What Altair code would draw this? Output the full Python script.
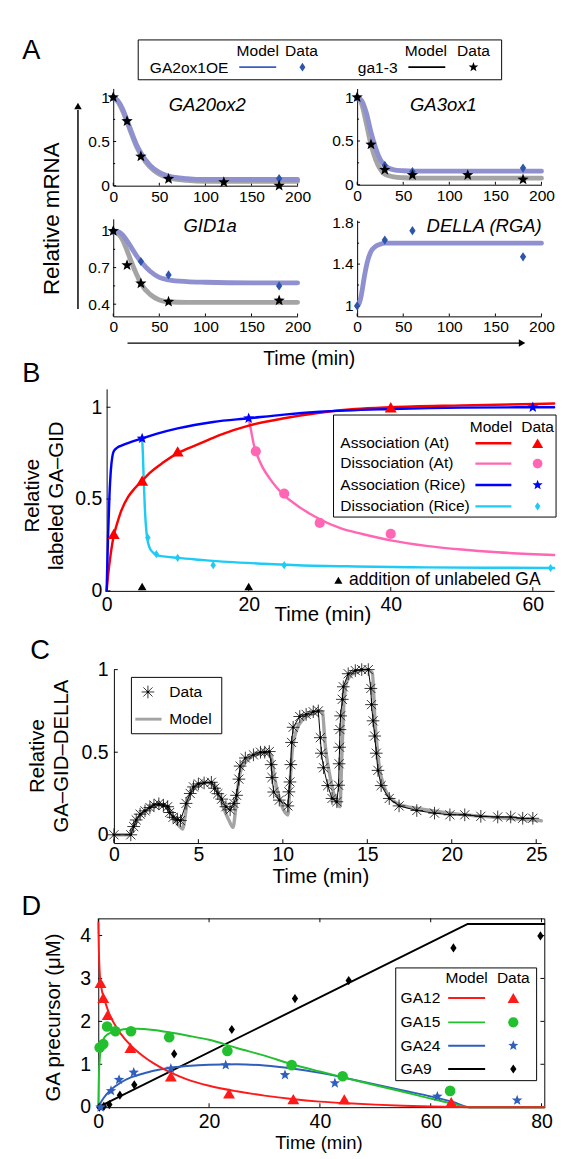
import altair as alt
import numpy as np
import pandas as pd

# ---------------- DATA ----------------
# Panel A (time in min, relative mRNA)
A20_T_MODEL = [0, 5, 10, 15, 20, 25, 30, 40, 50, 60, 80, 100, 150, 200]
A20_OE_MODEL = [1.0, 0.96, 0.87, 0.74, 0.60, 0.47, 0.37, 0.23, 0.15, 0.11, 0.08, 0.07, 0.07, 0.07]
A20_GA13_MODEL = [1.0, 0.95, 0.85, 0.72, 0.58, 0.45, 0.35, 0.21, 0.13, 0.09, 0.06, 0.05, 0.05, 0.05]
A20_T_GA13 = [0, 15, 30, 60, 120, 180]
A20_V_GA13 = [1.0, 0.73, 0.33, 0.077, 0.04, 0.0]
A20_T_OE = [0, 180]
A20_V_OE = [1.0, 0.08]

A3_T_MODEL = [0, 5, 10, 15, 20, 25, 30, 40, 50, 60, 80, 100, 150, 200]
A3_OE_MODEL = [1.0, 0.96, 0.82, 0.6, 0.42, 0.29, 0.22, 0.17, 0.16, 0.155, 0.155, 0.155, 0.155, 0.155]
A3_GA13_MODEL = [1.0, 0.92, 0.7, 0.46, 0.29, 0.18, 0.12, 0.09, 0.08, 0.075, 0.075, 0.075, 0.075, 0.075]
A3_T_GA13 = [0, 15, 30, 60, 120, 180]
A3_V_GA13 = [1.0, 0.46, 0.17, 0.11, 0.11, 0.06]
A3_T_OE = [0, 30, 60, 180]
A3_V_OE = [1.0, 0.22, 0.15, 0.19]

AG_T_MODEL = [0, 5, 10, 15, 20, 25, 30, 40, 50, 60, 80, 100, 150, 200]
AG_OE_MODEL = [1.0, 0.995, 0.97, 0.92, 0.86, 0.8, 0.75, 0.67, 0.62, 0.6, 0.585, 0.58, 0.575, 0.575]
AG_GA13_MODEL = [1.0, 0.98, 0.93, 0.84, 0.74, 0.65, 0.57, 0.48, 0.435, 0.42, 0.415, 0.415, 0.415, 0.415]
AG_T_GA13 = [0, 15, 30, 60, 180]
AG_V_GA13 = [1.0, 0.72, 0.57, 0.42, 0.43]
AG_T_OE = [0, 30, 60, 180]
AG_V_OE = [1.0, 0.75, 0.64, 0.55]

AD_T_MODEL = [0, 2, 4, 6, 8, 10, 12, 15, 20, 25, 30, 50, 100, 200]
AD_OE_MODEL = [1.0, 1.02, 1.08, 1.18, 1.29, 1.38, 1.45, 1.52, 1.57, 1.59, 1.6, 1.6, 1.6, 1.6]
AD_T_OE = [0, 30, 60, 180]
AD_V_OE = [1.0, 1.63, 1.72, 1.47]

# Panel B
B_T_ASSOC_AT = [0, 0.25, 0.5, 1, 1.5, 2, 3, 4, 5, 6, 8, 10, 13, 16, 20, 25, 30, 35, 40, 50, 63]
B_V_ASSOC_AT = [0, 0.1, 0.18, 0.3, 0.37, 0.43, 0.51, 0.56, 0.6, 0.64, 0.7, 0.75, 0.8, 0.85, 0.9, 0.94, 0.97, 0.99, 1.0, 1.01, 1.02]
B_T_DISS_AT = [20, 20.3, 20.7, 21, 21.5, 22, 23, 24, 25, 27, 30, 33, 36, 40, 45, 50, 55, 63]
B_V_DISS_AT = [0.94, 0.88, 0.8, 0.76, 0.71, 0.67, 0.61, 0.56, 0.52, 0.46, 0.39, 0.34, 0.31, 0.275, 0.245, 0.225, 0.21, 0.195]
B_T_ASSOC_RICE = [0, 0.2, 0.4, 0.6, 0.8, 1.0, 1.5, 2, 3, 5, 7, 10, 15, 20, 25, 30, 40, 50, 63]
B_V_ASSOC_RICE = [0, 0.3, 0.52, 0.66, 0.73, 0.76, 0.78, 0.79, 0.805, 0.83, 0.855, 0.885, 0.92, 0.94, 0.96, 0.975, 0.99, 0.998, 1.0]
B_T_DISS_RICE = [5, 5.1, 5.2, 5.35, 5.5, 5.7, 6.0, 6.5, 7.0, 8, 10, 13, 17, 22, 27, 35, 45, 55, 63]
B_V_DISS_RICE = [0.83, 0.75, 0.63, 0.48, 0.37, 0.29, 0.24, 0.21, 0.195, 0.188, 0.18, 0.17, 0.158, 0.148, 0.14, 0.133, 0.128, 0.126, 0.125]
B_T_ASSOC_AT_DATA = [1, 5, 10, 40]
B_V_ASSOC_AT_DATA = [0.31, 0.6, 0.76, 1.0]
B_T_DISS_AT_DATA = [21, 25, 30, 40]
B_V_DISS_AT_DATA = [0.76, 0.53, 0.37, 0.31]
B_T_ASSOC_RICE_DATA = [5, 20, 60]
B_V_ASSOC_RICE_DATA = [0.83, 0.94, 1.0]
B_T_DISS_RICE_DATA = [5.8, 7, 10, 15, 25, 62.5]
B_V_DISS_RICE_DATA = [0.29, 0.2, 0.18, 0.14, 0.14, 0.125]
B_T_ADDITION = [5, 20]

# Panel C
C_T_DATA = [0.0, 1.0, 1.17, 1.32, 1.55, 1.84, 2.13, 2.37, 2.66, 2.93, 3.18, 3.3, 3.5, 3.76, 3.94,
            4.27, 4.52, 4.71, 5.0, 5.34, 5.77, 5.96, 6.15, 6.38, 6.63, 6.88,
            7.1, 7.26, 7.4, 7.47, 7.78, 8.26, 8.68, 8.93, 9.2, 9.31, 9.36, 9.46, 9.79,
            10.3, 10.36, 10.42, 10.47, 10.52, 10.61, 11.0, 11.38, 11.8, 12.1,
            12.22, 12.28, 12.41, 12.66, 12.91, 13.2,
            13.3, 13.33, 13.36, 13.38, 13.42, 13.52, 13.58, 13.87, 14.29, 14.67, 15.06,
            15.21, 15.25, 15.34, 15.44, 15.53, 15.63, 15.82, 16.3, 16.88, 17.93, 18.98, 19.89,
            20.77, 21.72, 22.72, 23.49, 24.2, 24.8]
C_V_DATA = [0.0, 0.0, 0.05, 0.09, 0.125, 0.145, 0.165, 0.18, 0.188, 0.178, 0.17, 0.135, 0.106, 0.092, 0.086,
            0.19, 0.25, 0.29, 0.308, 0.314, 0.318, 0.282, 0.249, 0.216, 0.17, 0.151,
            0.19, 0.239, 0.337, 0.416, 0.465, 0.484, 0.5, 0.5, 0.504, 0.425, 0.347, 0.259, 0.21,
            0.175, 0.26, 0.32, 0.425, 0.559, 0.651, 0.716, 0.729, 0.745, 0.75,
            0.588, 0.494, 0.406, 0.298, 0.22, 0.2,
            0.3, 0.43, 0.53, 0.637, 0.72, 0.82, 0.896, 0.975, 0.994, 1.0, 1.0,
            0.886, 0.788, 0.69, 0.598, 0.494, 0.39, 0.298, 0.22, 0.175, 0.147, 0.131, 0.121,
            0.121, 0.112, 0.108, 0.108, 0.1, 0.1]
C_T_MODEL = [0, 0.95, 1.1, 1.3, 1.6, 2.0, 2.5, 3.0, 3.3, 3.6, 3.9, 4.08, 4.2, 4.35, 4.6, 5.0, 5.5, 5.9, 6.2, 6.5,
             6.8, 7.05, 7.2, 7.35, 7.55, 8.0, 8.5, 9.0, 9.3, 9.5, 9.8, 10.1, 10.3, 10.42, 10.55, 10.8, 11.2, 11.7,
             12.2, 12.35, 12.5, 12.8, 13.1, 13.38, 13.5, 13.62, 13.8, 14.2, 15.0, 15.3, 15.45, 15.7, 16.0, 16.5,
             17.0, 18.0, 20.0, 22.0, 24.0, 25.3]
C_V_MODEL = [0, 0, 0.04, 0.08, 0.12, 0.155, 0.18, 0.18, 0.15, 0.09, 0.05, 0.035, 0.1, 0.2, 0.26, 0.3, 0.32, 0.31,
             0.25, 0.16, 0.09, 0.045, 0.15, 0.3, 0.4, 0.46, 0.49, 0.5, 0.48, 0.35, 0.22, 0.14, 0.12, 0.3, 0.5, 0.63,
             0.7, 0.73, 0.75, 0.74, 0.55, 0.35, 0.22, 0.17, 0.5, 0.8, 0.93, 0.98, 1.0, 0.98, 0.7, 0.42, 0.29, 0.21,
             0.18, 0.16, 0.13, 0.11, 0.095, 0.085]

# Panel D
D_T_GA12_MODEL = [0, 0.1, 0.3, 0.6, 1, 1.5, 2, 3, 4, 6, 8, 10, 13, 16, 20, 25, 30, 35, 40, 45, 50, 55, 60, 65, 67, 80.5]
D_V_GA12_MODEL = [4.3, 3.7, 3.05, 2.75, 2.55, 2.35, 2.17, 1.92, 1.72, 1.42, 1.2, 1.02, 0.81, 0.65, 0.5, 0.37, 0.27, 0.19, 0.13, 0.09, 0.06, 0.035, 0.015, 0.003, 0, 0]
D_T_GA15_MODEL = [0, 0.1, 0.25, 0.5, 1, 1.5, 2, 3, 4, 5, 7, 10, 13, 16, 20, 25, 30, 35, 40, 45, 50, 55, 60, 64, 67, 80.5]
D_V_GA15_MODEL = [0, 0.7, 1.1, 1.4, 1.6, 1.68, 1.72, 1.77, 1.8, 1.82, 1.83, 1.8, 1.74, 1.67, 1.57, 1.38, 1.2, 1.0, 0.83, 0.67, 0.51, 0.36, 0.2, 0.08, 0, 0]
D_T_GA24_MODEL = [0, 0.5, 1, 2, 3, 4, 6, 8, 10, 13, 16, 20, 25, 30, 35, 40, 45, 50, 55, 60, 64, 67, 80.5]
D_V_GA24_MODEL = [0, 0.12, 0.22, 0.37, 0.48, 0.57, 0.7, 0.78, 0.85, 0.92, 0.96, 0.99, 1.0, 0.97, 0.9, 0.8, 0.67, 0.53, 0.39, 0.25, 0.12, 0, 0]
D_T_GA9_MODEL = [0, 66.7, 80.5]
D_V_GA9_MODEL = [0, 4.27, 4.27]
D_T_GA12 = [0.4, 0.9, 1.7, 5.8, 13.1, 23.6, 35.2, 44.4, 63.7]
D_V_GA12 = [2.9, 2.55, 2.15, 1.38, 0.72, 0.32, 0.19, 0.18, 0.12]
D_T_GA15 = [0.25, 0.9, 1.6, 3.1, 5.9, 12.8, 23.3, 34.9, 44.1, 63.5]
D_V_GA15 = [1.39, 1.47, 1.88, 1.77, 1.77, 1.63, 1.31, 0.98, 0.72, 0.38]
D_T_GA24 = [0.4, 2.3, 3.75, 6.4, 13.1, 23, 33.7, 42.7, 61.2, 75.6]
D_V_GA24 = [0, 0.38, 0.64, 0.81, 0.9, 0.98, 0.75, 0.56, 0.25, 0.16]
D_T_GA9 = [0.2, 1.0, 2.0, 3.9, 6.5, 13.7, 24.1, 35.5, 45.2, 64.1, 79.8]
D_V_GA9 = [0, 0.02, 0.06, 0.28, 0.52, 1.24, 1.81, 2.53, 2.95, 3.71, 3.99]

# tick labels
A_X_TICKS = [0, 50, 100, 150, 200]
A20_Y_TICKS = [0, 0.5, 1]
AG_Y_TICKS = [0.4, 0.7, 1]
AD_Y_TICKS = [1, 1.4, 1.8]
B_X_TICKS = [0, 20, 40, 60]
B_Y_TICKS = [0, 0.5, 1]
C_X_TICKS = [0, 5, 10, 15, 20, 25]
C_Y_TICKS = [0, 0.5, 1]
D_X_TICKS = [0, 20, 40, 60, 80]
D_Y_TICKS = [0, 1, 2, 3, 4]

# ---------------- STYLE / HELPERS ----------------
W, H = 558, 1151
FONT = "Liberation Sans"
LAV = "#8f90cf"
GRAY = "#a4a4a4"
DIAM_BLUE = "#2c55ab"

def star_path(inner=0.42):
    p = []
    for i in range(10):
        a = -np.pi / 2 + i * np.pi / 5
        r = 1.0 if i % 2 == 0 else inner
        p.append(f"{r*np.cos(a):.3f},{r*np.sin(a):.3f}")
    return "M" + "L".join(p) + "Z"

STAR = star_path()
DIAM = "M0,-1L0.68,0L0,1L-0.68,0Z"
ASTER = "M-1,0L1,0M0,-1L0,1M-0.72,-0.72L0.72,0.72M-0.72,0.72L0.72,-0.72"
ONE = pd.DataFrame({"a": [0]})

def sc(dom, rng):
    return alt.Scale(domain=dom, range=rng, nice=False, zero=False)

def xaxis(values, y0, fs, pad=4, orient="bottom", labels=True):
    off = (y0 - H) if orient == "bottom" else -y0
    return alt.Axis(orient=orient, offset=off, values=values, format=".2~f", tickSize=0, ticks=False,
                    domainColor="black", domainWidth=1, labels=labels, labelFont=FONT,
                    labelFontSize=fs, labelColor="black", labelPadding=pad, labelFlush=False,
                    labelOverlap=False, grid=False, title=None)

def yaxis(values, x0, fs, pad=5, orient="left", labels=True):
    off = -x0 if orient == "left" else x0 - W
    return alt.Axis(orient=orient, offset=off, values=values, format=".2~f", tickSize=0, ticks=False,
                    domainColor="black", domainWidth=1, labels=labels, labelFont=FONT,
                    labelFontSize=fs, labelColor="black", labelPadding=pad, labelFlush=False,
                    labelOverlap=False, grid=False, title=None)

def xticks(vals, sx, y0, ln, axis=None):
    return alt.Chart(pd.DataFrame({"t": vals})).mark_rule(color="black", strokeWidth=1).encode(
        x=alt.X("t:Q", scale=sx, axis=axis), y=alt.value(y0), y2=alt.value(y0 + ln))

def yticks(vals, sy, x0, ln, axis=None):
    return alt.Chart(pd.DataFrame({"v": vals})).mark_rule(color="black", strokeWidth=1).encode(
        y=alt.Y("v:Q", scale=sy, axis=axis), x=alt.value(x0), x2=alt.value(x0 + ln))

def line(t, v, sx, sy, color, w, interp="monotone"):
    return alt.Chart(pd.DataFrame({"t": t, "v": v})).mark_line(
        color=color, strokeWidth=w, interpolate=interp, strokeCap="round", strokeJoin="round").encode(
        x=alt.X("t:Q", scale=sx, axis=None), y=alt.Y("v:Q", scale=sy, axis=None))

def pts(t, v, sx, sy, shape, size, color, filled=True, sw=1):
    return alt.Chart(pd.DataFrame({"t": t, "v": v})).mark_point(
        shape=shape, size=size, filled=filled, color=color, opacity=1, strokeWidth=sw).encode(
        x=alt.X("t:Q", scale=sx, axis=None), y=alt.Y("v:Q", scale=sy, axis=None))

def text(s, x, y, fs, align="center", baseline="middle", angle=0, style="normal", weight="normal"):
    return alt.Chart(pd.DataFrame({"s": [s]})).mark_text(
        fontSize=fs, font=FONT, align=align, baseline=baseline, angle=angle, fontStyle=style,
        fontWeight=weight, color="black").encode(x=alt.value(x), y=alt.value(y), text="s:N")

def box(x1, x2, y1, y2):
    return alt.Chart(ONE).mark_rect(fill="white", stroke="black", strokeWidth=1).encode(
        x=alt.value(x1), x2=alt.value(x2), y=alt.value(y1), y2=alt.value(y2))

def seg(x1, x2, y, color, w):
    return alt.Chart(ONE).mark_rule(color=color, strokeWidth=w).encode(
        x=alt.value(x1), x2=alt.value(x2), y=alt.value(y))

def vseg(x, y1, y2, w):
    return alt.Chart(ONE).mark_rule(color="black", strokeWidth=w).encode(
        x=alt.value(x), y=alt.value(y1), y2=alt.value(y2))

def sym(x, y, shape, size, color, filled=True, sw=1):
    return alt.Chart(ONE).mark_point(shape=shape, size=size, filled=filled, color=color,
                                     opacity=1, strokeWidth=sw).encode(x=alt.value(x), y=alt.value(y))

L = []

# ---------------- PANEL A ----------------
A_FS = 16
panels_A = [
    dict(sxr=[100.3, 290.0], syd=[0, 1.1], syr=[158.0, 57.9], yt=A20_Y_TICKS, minor=[0.25, 0.75],
         tm=A20_T_MODEL, oe=A20_OE_MODEL, g13=A20_GA13_MODEL,
         tg=A20_T_GA13, vg=A20_V_GA13, to=A20_T_OE, vo=A20_V_OE, title="GA20ox2", tp=(197, 75)),
    dict(sxr=[351.3, 541.0], syd=[0, 1.1], syr=[157.0, 58.0], yt=A20_Y_TICKS, minor=[0.25, 0.75],
         tm=A3_T_MODEL, oe=A3_OE_MODEL, g13=A3_GA13_MODEL,
         tg=A3_T_GA13, vg=A3_V_GA13, to=A3_T_OE, vo=A3_V_OE, title="GA3ox1", tp=(440, 75)),
    dict(sxr=[100.3, 290.0], syd=[0.3, 1.1], syr=[292.5, 192.1], yt=AG_Y_TICKS, minor=[0.55, 0.85],
         tm=AG_T_MODEL, oe=AG_OE_MODEL, g13=AG_GA13_MODEL,
         tg=AG_T_GA13, vg=AG_V_GA13, to=AG_T_OE, vo=AG_V_OE, title="GID1a", tp=(200, 200)),
    dict(sxr=[351.3, 541.0], syd=[0.9, 1.82], syr=[292.5, 193.5], yt=AD_Y_TICKS, minor=[1.2, 1.6],
         tm=AD_T_MODEL, oe=AD_OE_MODEL, g13=None,
         tg=None, vg=None, to=AD_T_OE, vo=AD_V_OE, title="DELLA (RGA)", tp=(482, 200)),
]
for p in panels_A:
    sx = sc([0, 200], p["sxr"])
    sy = sc(p["syd"], p["syr"])
    x0, y0 = p["sxr"][0], p["syr"][0]
    L.append(xticks(A_X_TICKS, sx, y0, -3, axis=xaxis(A_X_TICKS, y0, A_FS, pad=3)))
    L.append(yticks(p["yt"], sy, x0, 3, axis=yaxis(p["yt"], x0, A_FS, pad=4)))
    L.append(yticks(p["minor"], sy, x0, 2))
    if p["g13"] is not None:
        L.append(line(p["tm"], p["g13"], sx, sy, GRAY, 5))
    L.append(line(p["tm"], p["oe"], sx, sy, LAV, 5))
    L.append(pts(p["to"], p["vo"], sx, sy, DIAM, 90, DIAM_BLUE))
    if p["tg"] is not None:
        L.append(pts(p["tg"], p["vg"], sx, sy, STAR, 150, "black"))
    L.append(text(p["title"], p["tp"][0], p["tp"][1], 19, style="italic"))

# A legend
L.append(box(126, 500, 8, 49))
L.append(text("Model", 249, 20, 16))
L.append(text("Data", 294, 20, 16))
L.append(text("GA2ox1OE", 138, 37, 16, align="left"))
L.append(seg(230, 268, 36, "#3b5cc4", 2))
L.append(sym(295, 36, DIAM, 80, DIAM_BLUE))
L.append(text("Model", 422, 20, 16))
L.append(text("Data", 471, 20, 16))
L.append(text("ga1-3", 352, 37, 16, align="left"))
L.append(seg(404, 442, 36, "black", 2))
L.append(sym(471, 36, STAR, 110, "black"))

# A arrows and labels
L.append(vseg(64, 285, 80, 1.5))
L.append(sym(64, 76, "triangle-up", 60, "black"))
L.append(seg(115, 518, 320, "black", 1.5))
L.append(sym(521, 320, "triangle-right", 60, "black"))
L.append(text("Relative mRNA", 37, 192, 23, angle=270))
L.append(text("Time (min)", 302, 337, 20))
L.append(text("A", 16, 20, 28))

# ---------------- PANEL B ----------------
BFS = 20
sxb = sc([0, 63], [93.5, 554.0])
syb = sc([0, 1.1], [575.0, 367.1])
L.append(xticks(B_X_TICKS, sxb, 575.0, -4, axis=xaxis(B_X_TICKS, 575.0, BFS, pad=4)))
L.append(yticks(B_Y_TICKS, syb, 93.5, 4, axis=yaxis(B_Y_TICKS, 93.5, BFS, pad=5)))
L.append(line(B_T_DISS_RICE, B_V_DISS_RICE, sxb, syb, "#1ecbf5", 2.5))
L.append(line(B_T_DISS_AT, B_V_DISS_AT, sxb, syb, "#ff66b3", 2.5))
L.append(line(B_T_ASSOC_AT, B_V_ASSOC_AT, sxb, syb, "#ff0000", 2.5))
L.append(line(B_T_ASSOC_RICE, B_V_ASSOC_RICE, sxb, syb, "#0000ff", 2.5))
L.append(pts(B_T_DISS_RICE_DATA, B_V_DISS_RICE_DATA, sxb, syb, DIAM, 70, "#1ecbf5"))
L.append(pts(B_T_DISS_AT_DATA, B_V_DISS_AT_DATA, sxb, syb, "circle", 110, "#ff66b3"))
L.append(pts(B_T_ASSOC_AT_DATA, B_V_ASSOC_AT_DATA, sxb, syb, "triangle-up", 150, "#ff0000"))
L.append(pts(B_T_ASSOC_RICE_DATA, B_V_ASSOC_RICE_DATA, sxb, syb, STAR, 140, "#0000ff"))
L.append(alt.Chart(pd.DataFrame({"t": B_T_ADDITION})).mark_point(
    shape="triangle-up", size=80, filled=True, color="black", opacity=1).encode(
    x=alt.X("t:Q", scale=sxb, axis=None), y=alt.value(570.5)))
# B legend
L.append(box(327, 556, 394, 499))
L.append(text("Model", 489, 406, 16))
L.append(text("Data", 537, 406, 16))
b_rows = [("Association (At)", "#ff0000", "triangle-up", 130),
          ("Dissociation (At)", "#ff66b3", "circle", 100),
          ("Association (Rice)", "#0000ff", STAR, 120),
          ("Dissociation (Rice)", "#1ecbf5", DIAM, 70)]
for (lab, col, shp, sz), yy in zip(b_rows, [423, 444, 466, 488]):
    L.append(text(lab, 334, yy, 16, align="left"))
    L.append(seg(473, 510, yy, col, 2.5))
    L.append(sym(537, yy, shp, sz, col))
L.append(sym(332, 564, "triangle-up", 70, "black"))
L.append(text("addition of unlabeled GA", 343, 564, 18, align="left"))
L.append(text("Relative", 18, 477, 21, angle=270))
L.append(text("labeled GA\u2013GID", 43, 477, 21, angle=270))
L.append(text("Time (min)", 316, 600, 21))
L.append(text("B", 16, 352, 28))

# ---------------- PANEL C ----------------
CFS = 20
sxc = sc([0, 25.3], [101.0, 540.8])
syc = sc([-0.05, 1.0], [834.5, 656.0])
L.append(xticks(C_X_TICKS, sxc, 834.5, -4, axis=xaxis(C_X_TICKS, 834.5, CFS, pad=2)))
L.append(yticks(C_Y_TICKS, syc, 101.0, 4, axis=yaxis(C_Y_TICKS, 101.0, CFS, pad=6)))
L.append(line(C_T_MODEL, C_V_MODEL, sxc, syc, GRAY, 3.5))
L.append(line(C_T_DATA, C_V_DATA, sxc, syc, "black", 1, interp="linear"))
L.append(pts(C_T_DATA, C_V_DATA, sxc, syc, ASTER, 170, "black", filled=False, sw=0.8))
L.append(pts(C_T_DATA, C_V_DATA, sxc, syc, "circle", 7, "black"))
L.append(box(119, 212, 664, 722))
L.append(sym(136, 679, ASTER, 170, "black", filled=False, sw=0.8))
L.append(sym(136, 679, "circle", 7, "black"))
L.append(text("Data", 158, 679, 16, align="left"))
L.append(seg(123, 150, 707, GRAY, 3))
L.append(text("Model", 158, 707, 16, align="left"))
L.append(text("Relative", 23, 745, 21, angle=270))
L.append(text("GA\u2013GID\u2013DELLA", 48, 745, 21, angle=270))
L.append(text("Time (min)", 314, 870, 21))
L.append(text("C", 25, 637, 28))

# ---------------- PANEL D ----------------
DFS = 20
sxd = sc([0, 80.5], [84.9, 543.9])
syd = sc([0, 4.4], [1106.3, 912.0])
L.append(xticks(D_X_TICKS, sxd, 1106.3, -4, axis=xaxis(D_X_TICKS, 1106.3, DFS, pad=5)))
L.append(yticks(D_Y_TICKS, syd, 84.9, 4, axis=yaxis(D_Y_TICKS, 84.9, DFS, pad=8)))
L.append(xticks(D_X_TICKS, sxd, 912.0, 4, axis=xaxis(D_X_TICKS, 912.0, DFS, orient="top", labels=False)))
L.append(yticks(D_Y_TICKS, syd, 543.9, -4, axis=yaxis(D_Y_TICKS, 543.9, DFS, orient="right", labels=False)))
L.append(line(D_T_GA9_MODEL, D_V_GA9_MODEL, sxd, syd, "black", 2, interp="linear"))
L.append(line(D_T_GA24_MODEL, D_V_GA24_MODEL, sxd, syd, "#2f5fbd", 2))
L.append(line(D_T_GA15_MODEL, D_V_GA15_MODEL, sxd, syd, "#22bf2e", 2))
L.append(line(D_T_GA12_MODEL, D_V_GA12_MODEL, sxd, syd, "#ff1a1a", 2))
L.append(pts(D_T_GA9, D_V_GA9, sxd, syd, DIAM, 90, "black"))
L.append(pts(D_T_GA24, D_V_GA24, sxd, syd, STAR, 130, "#2f5fbd"))
L.append(pts(D_T_GA15, D_V_GA15, sxd, syd, "circle", 120, "#22bf2e"))
L.append(pts(D_T_GA12, D_V_GA12, sxd, syd, "triangle-up", 150, "#ff1a1a"))
L.append(box(391, 536, 963, 1079))
L.append(text("Model", 464, 974, 16))
L.append(text("Data", 512, 974, 16))
d_rows = [("GA12", "#ff1a1a", "triangle-up", 140),
          ("GA15", "#22bf2e", "circle", 110),
          ("GA24", "#2f5fbd", STAR, 120),
          ("GA9", "black", DIAM, 90)]
for (lab, col, shp, sz), yy in zip(d_rows, [994, 1019, 1043, 1067]):
    L.append(text(lab, 396, yy, 16, align="left"))
    L.append(seg(445, 483, yy, col, 2))
    L.append(sym(512, yy, shp, sz, col))
L.append(text("GA precursor (\u03bcM)", 39, 1014, 21, angle=270))
L.append(text("Time (min)", 312, 1143, 19))
L.append(text("D", 16, 901, 28))

chart = alt.layer(*L).resolve_scale(x="independent", y="independent").properties(
    width=W, height=H, autosize=alt.AutoSizeParams(type="none"),
    padding={"left": 8, "top": 8, "right": 0, "bottom": 0}
).configure_view(strokeWidth=0)

chart.save("out.html", embed_options={"renderer": "svg", "actions": False})
